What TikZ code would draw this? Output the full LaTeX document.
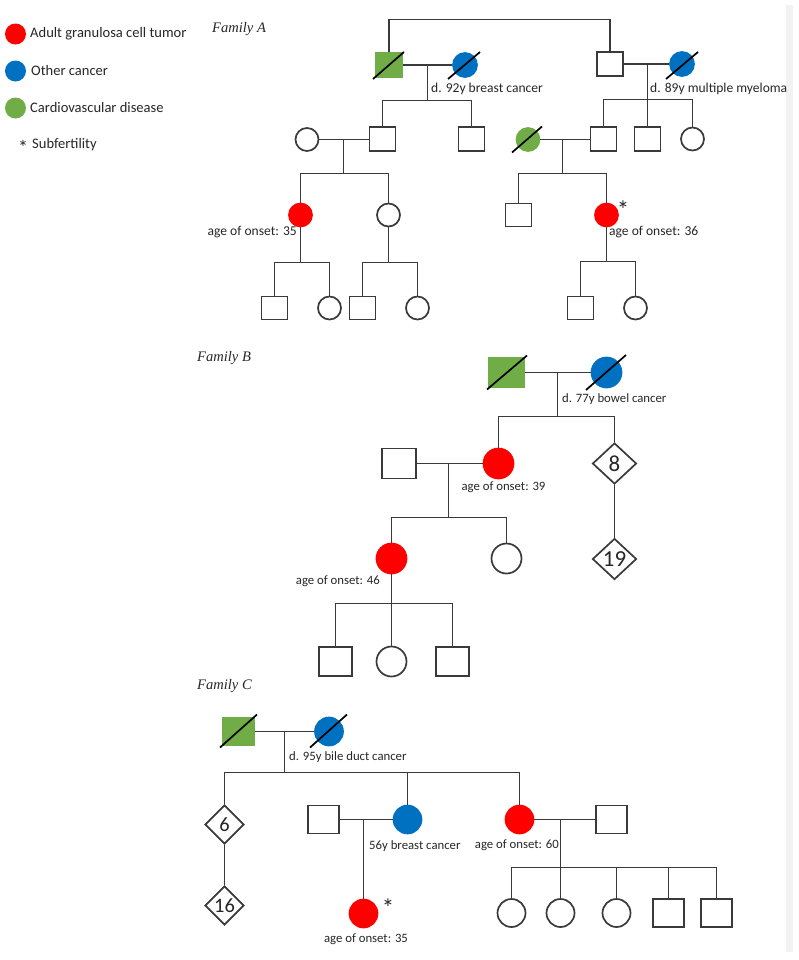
\documentclass[tikz,border=0pt]{standalone}
\usepackage{fontspec}
\setmainfont{Carlito}
\newfontfamily\titlefont{Liberation Serif}
\usetikzlibrary{shapes.geometric}
\definecolor{agct}{HTML}{FF0000}
\definecolor{oc}{HTML}{0070C0}
\definecolor{cvd}{HTML}{70AD47}
\definecolor{ln}{HTML}{3A3A3A}
\definecolor{txt}{HTML}{262626}
\definecolor{strip}{HTML}{F2F2F2}
\begin{document}
\begin{tikzpicture}[x=1bp,y=-1bp,
  line/.style={draw=ln, line width=1.7bp},
  slash/.style={draw=black, line width=1.7bp},
  base/.style={draw=ln, line width=1.7bp, inner sep=0pt, fill=white},
  aff/.style={fill=#1, draw=#1},
  maleA/.style={base, rectangle, minimum width=26bp, minimum height=24bp},
  femA/.style={base, circle, minimum size=23bp},
  maleB/.style={base, rectangle, minimum width=34bp, minimum height=30bp},
  femB/.style={base, circle, minimum size=30bp},
  maleC/.style={base, rectangle, minimum width=31bp, minimum height=28bp},
  femC/.style={base, circle, minimum size=28bp},
  diamB/.style={base, diamond, minimum width=44bp, minimum height=41bp, font=\fontsize{23}{23}\selectfont, text=txt},
  diamC/.style={base, diamond, minimum width=39bp, minimum height=39bp, font=\fontsize{20.5}{20.5}\selectfont, text=txt},
  lblA/.style={inner sep=0pt, text=txt, font=\fontsize{13.6}{16}\selectfont},
  lblB/.style={inner sep=0pt, text=txt, font=\fontsize{12.8}{15}\selectfont},
  star/.style={inner sep=0pt, text=txt, font=\fontsize{25}{25}\selectfont},
  legtxt/.style={inner sep=0pt, text=txt, font=\fontsize{14.6}{17}\selectfont, anchor=west},
  legdot/.style={circle, inner sep=0pt, minimum size=21bp},
  fam/.style={inner sep=0pt, text=txt, anchor=west, font=\titlefont\itshape\fontsize{14.6}{17}\selectfont},
]
\useasboundingbox (0,0) rectangle (799,960);
\fill[strip] (786,5) rectangle (793,952);

% ---------------- Legend ----------------
\node[legdot, fill=agct] (L1) at (15.5,34) {};
\node[legdot, fill=oc] (L2) at (15.5,71) {};
\node[legdot, fill=cvd] (L3) at (15.5,108) {};
\node[legtxt] (L1t) at (30,34) {Adult granulosa cell tumor};
\node[legtxt] (L2t) at (31,71) {Other cancer};
\node[legtxt] (L3t) at (30,108) {Cardiovascular disease};
\node[star, font=\fontsize{20}{20}\selectfont] (L4s) at (23,147.5) {*};
\node[legtxt] (L4t) at (32,145) {Subfertility};

% ---------------- Family A ----------------
\node[fam] (FA) at (212,29) {Family A};
\node[maleA, aff=cvd] (A_gf1) at (389,65) {};
\node[femA, aff=oc, minimum size=24bp] (A_gm1) at (465,65) {};
\node[maleA] (A_gf2) at (610,64) {};
\node[femA, aff=oc, minimum size=24bp] (A_gm2) at (682,64) {};
\draw[slash] ([shift={(-16,14)}]A_gf1.center) -- ([shift={(15,-13)}]A_gf1.center);
\draw[slash] ([shift={(-17,14)}]A_gm1.center) -- ([shift={(15,-13)}]A_gm1.center);
\draw[slash] ([shift={(-16,15)}]A_gm2.center) -- ([shift={(16,-12)}]A_gm2.center);
\coordinate (A_top) at (500,19.5);
\draw[line] (A_gf1.north) |- (A_top) -| (A_gf2.north);
\draw[line] (A_gf1.east) -- (A_gm1.west);
\draw[line] (A_gf2.east) -- (A_gm2.west);
\node[lblA, anchor=west] (A_t1) at (431,89) {d. 92y breast cancer};
\node[lblA, anchor=west] (A_t2) at (650,89) {d. 89y multiple myeloma};

% left branch
\node[maleA] (A_f1) at (382.5,139) {};
\node[maleA] (A_u1) at (471.5,139) {};
\node[femA] (A_m1) at (307,139.5) {};
\coordinate (A_j1) at (427.5,65);
\coordinate (A_s1) at (427.5,100.5);
\draw[line] (A_j1) -- (A_s1);
\draw[line] (A_f1.north) |- (A_s1) -| (A_u1.north);
\draw[line] (A_m1.east) -- (A_m1.east -| A_f1.west);
\node[femA, aff=agct] (A_p1) at (300.5,215) {};
\node[femA] (A_c1) at (388.5,215) {};
\coordinate (A_j2) at (343.5,139.5);
\coordinate (A_s2) at (343.5,173.5);
\draw[line] (A_j2) -- (A_s2);
\draw[line] (A_p1.north) |- (A_s2) -| (A_c1.north);
\node[lblA, anchor=east] (A_t3) at (297,232) {age of onset: 35};
\node[maleA, minimum height=23bp] (A_k1) at (274.5,308) {};
\node[femA] (A_k2) at (329.5,308) {};
\coordinate (A_s3) at (300.5,262.5);
\draw[line] (A_p1.south) -- (A_s3);
\draw[line] (A_k1.north) |- (A_s3) -| (A_k2.north);
\node[maleA, minimum height=23bp] (A_k3) at (362.5,308) {};
\node[femA] (A_k4) at (417.5,308) {};
\coordinate (A_s4) at (388.5,262.5);
\draw[line] (A_c1.south) -- (A_s4);
\draw[line] (A_k3.north) |- (A_s4) -| (A_k4.north);

% right branch
\node[maleA] (A_f2) at (603.5,139) {};
\node[maleA] (A_u2) at (647.5,139) {};
\node[femA] (A_a2) at (692.5,139) {};
\coordinate (A_j3) at (647.5,64);
\coordinate (A_s5) at (647.5,99.5);
\draw[line] (A_j3) -- (A_u2.north);
\draw[line] (A_f2.north) |- (A_s5) -| (A_a2.north);
\node[femA, aff=cvd] (A_w2) at (528,139.5) {};
\draw[slash] ([shift={(-16,13)}]A_w2.center) -- ([shift={(14,-13)}]A_w2.center);
\draw[line] (A_w2.east) -- (A_w2.east -| A_f2.west);
\node[maleA, minimum height=23bp] (A_b2) at (518.5,215) {};
\node[femA, aff=agct] (A_p2) at (606.5,215) {};
\coordinate (A_j4) at (562.5,139.5);
\coordinate (A_s6) at (562.5,173.5);
\draw[line] (A_j4) -- (A_s6);
\draw[line] (A_b2.north) |- (A_s6) -| (A_p2.north);
\node[star] (A_st1) at (623,210) {*};
\node[lblA, anchor=west] (A_t4) at (609,232) {age of onset: 36};
\node[maleA, minimum height=23bp] (A_k5) at (580.5,308) {};
\node[femA] (A_k6) at (635.5,308) {};
\coordinate (A_s7) at (606.5,261.5);
\draw[line] (A_p2.south) -- (A_s7);
\draw[line] (A_k5.north) |- (A_s7) -| (A_k6.north);

% ---------------- Family B ----------------
\node[fam] (FB) at (197,358) {Family B};
\node[maleB, aff=cvd, minimum width=35bp, minimum height=29bp] (B_gf) at (506.5,372.5) {};
\node[femB, aff=oc] (B_gm) at (606.5,372.5) {};
\draw[slash] ([shift={(-19.5,17)}]B_gf.center) -- ([shift={(20.5,-17)}]B_gf.center);
\draw[slash] ([shift={(-20.5,17.5)}]B_gm.center) -- ([shift={(19.5,-17.5)}]B_gm.center);
\draw[line] (B_gf.east) -- (B_gm.west);
\node[lblB, anchor=west] (B_t1) at (562,399) {d. 77y bowel cancer};
\node[femB, aff=agct] (B_p1) at (498.5,463.5) {};
\node[diamB] (B_d8) at (614.5,463.5) {8};
\node[diamB] (B_d19) at (614.5,559) {19};
\coordinate (B_j1) at (557.5,372.5);
\coordinate (B_s1) at (557.5,416.5);
\draw[line] (B_j1) -- (B_s1);
\draw[line] (B_p1.north) |- (B_s1) -| (B_d8.north);
\draw[line] (B_d8.south) -- (B_d19.north);
\node[maleB] (B_h) at (399,463.5) {};
\draw[line] (B_h.east) -- (B_p1.west);
\node[lblB] (B_t2) at (503.5,487) {age of onset: 39};
\node[femB, aff=agct] (B_p2) at (391.5,558.5) {};
\node[femB] (B_c) at (506.5,558.5) {};
\coordinate (B_j2) at (448.5,463.5);
\coordinate (B_s2) at (448.5,517.5);
\draw[line] (B_j2) -- (B_s2);
\draw[line] (B_p2.north) |- (B_s2) -| (B_c.north);
\node[lblB, anchor=east] (B_t3) at (380,581) {age of onset: 46};
\node[maleB, minimum width=33bp, minimum height=29bp] (B_k1) at (335.5,661.5) {};
\node[femB] (B_k2) at (391.5,661.5) {};
\node[maleB, minimum width=33bp, minimum height=29bp] (B_k3) at (452.5,661.5) {};
\coordinate (B_s3) at (391.5,603.5);
\draw[line] (B_p2.south) -- (B_k2.north);
\draw[line] (B_k1.north) |- (B_s3) -| (B_k3.north);

% ---------------- Family C ----------------
\node[fam] (FC) at (197,686) {Family C};
\node[maleC, aff=cvd, minimum height=27bp] (C_gf) at (238.5,731.5) {};
\node[femC, aff=oc] (C_gm) at (329,731.5) {};
\draw[slash] ([shift={(-18.5,16)}]C_gf.center) -- ([shift={(18.5,-17)}]C_gf.center);
\draw[slash] ([shift={(-19,16)}]C_gm.center) -- ([shift={(18,-17)}]C_gm.center);
\draw[line] (C_gf.east) -- (C_gm.west);
\node[lblB, anchor=west] (C_t1) at (289,757) {d. 95y bile duct cancer};
\node[diamC] (C_d6) at (224.5,824.5) {6};
\node[diamC] (C_d16) at (224.5,905.5) {16};
\node[femC, aff=oc] (C_b) at (407.5,819.5) {};
\node[femC, aff=agct] (C_r) at (519.5,819.5) {};
\coordinate (C_j1) at (284.5,731.5);
\coordinate (C_s1) at (284.5,772.5);
\draw[line] (C_j1) -- (C_s1);
\draw[line] (C_d6.north) |- (C_s1) -| (C_r.north);
\draw[line] (C_b.north) -- (C_b.north |- C_s1);
\draw[line] (C_d6.south) -- (C_d16.north);
\node[maleC] (C_h) at (323.5,819.5) {};
\draw[line] (C_h.east) -- (C_b.west);
\node[lblB, anchor=west] (C_t2) at (369,846) {56y breast cancer};
\node[femC, aff=agct] (C_p) at (363.5,913.5) {};
\coordinate (C_j2) at (363.5,819.5);
\draw[line] (C_j2) -- (C_p.north);
\node[star] (C_st) at (388,908) {*};
\node[lblB] (C_t3) at (366,939) {age of onset: 35};
\node[maleC] (C_s) at (611.5,819.5) {};
\draw[line] (C_r.east) -- (C_s.west);
\node[lblB, anchor=east] (C_t4) at (559,845) {age of onset: 60};
\coordinate (C_j3) at (560.5,819.5);
\coordinate (C_s3) at (560.5,867.5);
\node[femC] (C_k1) at (511.5,913) {};
\node[femC] (C_k2) at (560.5,913) {};
\node[femC] (C_k3) at (616.5,913) {};
\node[maleC] (C_k4) at (668.5,913) {};
\node[maleC] (C_k5) at (716.5,913) {};
\draw[line] (C_j3) -- (C_k2.north);
\draw[line] (C_k1.north) |- (C_s3) -| (C_k5.north);
\draw[line] (C_k3.north) -- (C_k3.north |- C_s3);
\draw[line] (C_k4.north) -- (C_k4.north |- C_s3);
\end{tikzpicture}
\end{document}
